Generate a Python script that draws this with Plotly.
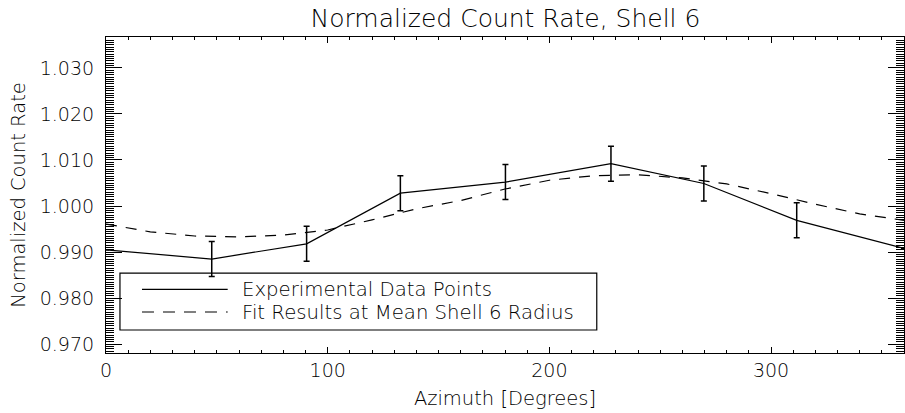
import plotly.graph_objects as go

# ---- data ----
azimuth_exp = [0, 47.7, 90.5, 132.8, 180.2, 227.8, 269.7, 311.6, 360]
rate_exp = [0.9905, 0.9885, 0.9918, 1.0028, 1.0052, 1.0092, 1.0049, 0.9969, 0.9908]
rate_err = [0, 0.0038, 0.0038, 0.0038, 0.0038, 0.0038, 0.0038, 0.0038, 0]

azimuth_fit = [0, 20, 40, 60, 80, 100, 120, 140, 160, 180, 200, 220, 240, 260, 280, 300, 320, 340, 360]
rate_fit = [0.9961, 0.9944, 0.9935, 0.9933, 0.9937, 0.9948, 0.9970, 0.9994, 1.0012, 1.0037,
            1.0056, 1.0066, 1.0068, 1.0061, 1.0048, 1.0027, 1.0004, 0.9983, 0.9969]

x_ticks = [0, 100, 200, 300]
y_ticks = [0.970, 0.980, 0.990, 1.000, 1.010, 1.020, 1.030]

title_text = "Normalized Count Rate, Shell 6"
x_title = "Azimuth [Degrees]"
y_title = "Normalized Count Rate"
legend_names = ["Experimental Data Points", "Fit Results at Mean Shell 6 Radius"]

FONT = "DejaVu Sans"
W = 200  # light weight to mimic thin vector font

fig = go.Figure()
fig.add_trace(go.Scatter(
    x=azimuth_exp, y=rate_exp, mode="lines", name=legend_names[0],
    line=dict(color="black", width=1.2),
    error_y=dict(type="data", array=rate_err, visible=True, color="black",
                 thickness=1.5, width=3),
    showlegend=False,
))
fig.add_trace(go.Scatter(
    x=azimuth_fit, y=rate_fit, mode="lines", name=legend_names[1],
    line=dict(color="black", width=1.2, dash="11px,9px"),
    showlegend=False,
))

# custom IDL-style legend box (paper coordinates)
shapes = [
    dict(type="rect", xref="paper", yref="paper", x0=0.0175, x1=0.615, y0=0.0728, y1=0.253,
         line=dict(color="black", width=1.2)),
    dict(type="line", xref="paper", yref="paper", x0=0.0451, x1=0.1525, y0=0.2016, y1=0.2016,
         line=dict(color="black", width=1.2)),
    dict(type="line", xref="paper", yref="paper", x0=0.0451, x1=0.1525, y0=0.1297, y1=0.1297,
         line=dict(color="black", width=1.2, dash="12px,9px")),
]
annotations = [
    dict(xref="paper", yref="paper", x=0.168, y=yy, text=t, showarrow=False,
         xanchor="left", yanchor="middle",
         font=dict(family=FONT, size=19.7, color="black", weight=W))
    for t, yy in zip(legend_names, [0.2016, 0.1297])
]

fig.update_layout(
    width=905, height=413,
    margin=dict(l=106, r=1, t=37, b=60, autoexpand=False),
    paper_bgcolor="white", plot_bgcolor="white",
    font=dict(family=FONT, color="black", size=19, weight=W),
    title=dict(text=title_text, x=0.5585, xanchor="center", y=1 - 18 / 413, yanchor="middle",
               yref="container", font=dict(family=FONT, size=25, color="black", weight=W)),
    shapes=shapes, annotations=annotations,
    xaxis=dict(
        range=[0, 360], tickvals=x_ticks, ticks="inside", ticklen=6, tickwidth=1,
        tickcolor="black", showline=True, linecolor="black", linewidth=1.2, mirror="allticks",
        showgrid=False, zeroline=False, ticklabelstandoff=0, automargin=False,
        minor=dict(dtick=10, ticks="inside", ticklen=3, tickcolor="black", showgrid=False),
        title=dict(text=x_title, font=dict(family=FONT, size=19.5, color="black", weight=W),
                   standoff=11),
        tickfont=dict(size=19, color="black", weight=W),
    ),
    yaxis=dict(
        range=[0.9681, 1.0367], tickvals=y_ticks, tickformat=".3f", ticks="inside", ticklen=16,
        tickwidth=1, tickcolor="black", showline=True, linecolor="black", linewidth=1.2,
        mirror="allticks", showgrid=False, zeroline=False, ticklabelstandoff=7, automargin=False,
        minor=dict(dtick=0.0005, tick0=0.97, ticks="inside", ticklen=8, tickcolor="black",
                   showgrid=False),
        title=dict(text=y_title, font=dict(family=FONT, size=19.5, color="black", weight=W),
                   standoff=8),
        tickfont=dict(size=19, color="black", weight=W),
    ),
)

fig.write_html("out.html", config={"displayModeBar": False},
               post_script="document.body.style.margin='0';")
